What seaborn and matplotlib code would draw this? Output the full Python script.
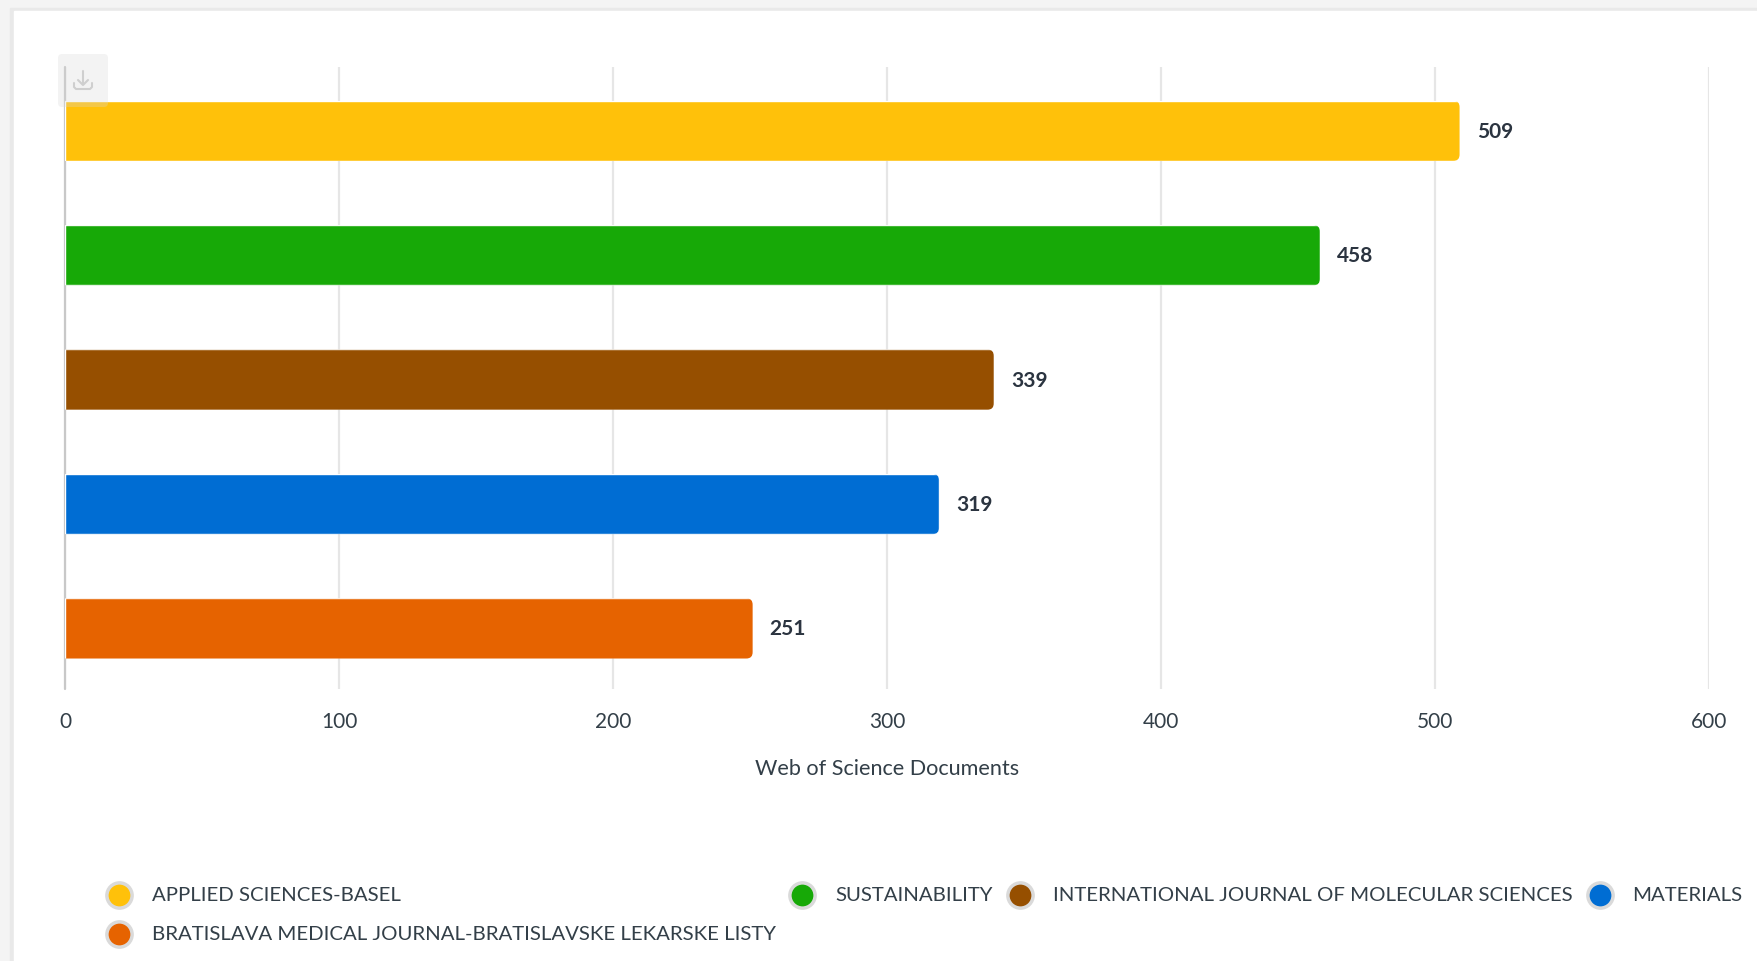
import matplotlib
matplotlib.use("Agg")
import matplotlib.pyplot as plt
from matplotlib.patches import FancyBboxPatch, Rectangle
import pandas as pd
import seaborn as sns

revistas = ["APPLIED SCIENCES-BASEL", "SUSTAINABILITY",
            "INTERNATIONAL JOURNAL OF MOLECULAR SCIENCES", "MATERIALS",
            "BRATISLAVA MEDICAL JOURNAL-BRATISLAVSKE LEKARSKE LISTY"]
documentos = [509, 458, 339, 319, 251]
colores = ["#FFC10A", "#17A907", "#964F00", "#006DD3", "#E66300"]
ticks = [0, 100, 200, 300, 400, 500, 600]

W, H = 1757, 962

sns.set_style("white")
plt.rcParams["font.family"] = ["Lato", "DejaVu Sans"]

df = pd.DataFrame({"revista": revistas, "documentos": documentos})

fig = plt.figure(figsize=(W / 100, H / 100), dpi=100)

# fondo de la pagina y tarjeta
fondo = fig.add_axes([0, 0, 1, 1], zorder=0)
fondo.set_xlim(0, W)
fondo.set_ylim(H, 0)
fondo.axis("off")
fondo.add_patch(Rectangle((0, 0), W, H, color="#F4F4F4"))
fondo.add_patch(Rectangle((10, 9), W, H, color="#E9E9E9"))
fondo.add_patch(Rectangle((14, 12), W, H, color="white"))

ax = fig.add_axes([65 / W, 1 - 690 / H, (1709 - 65) / W, (690 - 68) / H], zorder=1)
ax.patch.set_alpha(0)
sns.barplot(data=df, y="revista", x="documentos", hue="revista", palette=colores,
            width=0.485, dodge=False, legend=False, ax=ax, saturation=1, zorder=3)
ax.set_xlim(0, 600)
ax.set_ylim(4.487, -0.513)
ax.set_xticks(ticks)
ax.set_yticks([])
ax.set_ylabel("")
ax.set_xlabel("Web of Science Documents", fontsize=15.6, color="#333F48", labelpad=19)
ax.tick_params(axis="x", length=0, labelsize=15, labelcolor="#333F48", pad=16)
ax.xaxis.grid(True, color="#E6E6E6", linewidth=1.6)
ax.set_axisbelow(True)
for lado in ax.spines:
    ax.spines[lado].set_visible(False)
ax.axvline(0, color="#C8C8C8", linewidth=1.6, zorder=2, clip_on=False)

# esquinas redondeadas y valores
for barra, valor in zip(ax.patches, documentos):
    y0 = barra.get_y()
    alto = barra.get_height()
    r = 2.4
    asp = 0.0225
    forma = FancyBboxPatch((-20, y0 + r * asp), valor + 20 - r, alto - 2 * r * asp,
                           boxstyle="round,pad=%f,rounding_size=%f" % (r, r),
                           mutation_aspect=asp, transform=ax.transData)
    barra.set_clip_path(forma)
    ax.annotate(str(valor), xy=(valor, y0 + alto / 2), xytext=(17, 0),
                textcoords="offset pixels", va="center", ha="left",
                fontsize=15, fontweight="bold", color="#2B3440")

# capa de encima: boton de descarga y leyenda
capa = fig.add_axes([0, 0, 1, 1], zorder=2)
capa.set_xlim(0, W)
capa.set_ylim(H, 0)
capa.axis("off")
capa.add_patch(FancyBboxPatch((60, 57), 46, 49, boxstyle="round,pad=2,rounding_size=4",
                              facecolor="#D8D8D8", alpha=0.3, edgecolor="none"))
capa.plot([83, 83], [72, 85], color="#CFCFCF", lw=1.5)
capa.plot([78, 83, 88], [81, 86, 81], color="#CFCFCF", lw=1.5)
capa.plot([74, 74, 76, 90, 92, 92], [84, 88, 90, 90, 88, 84], color="#CFCFCF", lw=1.5)

ley_x = [119, 802, 1020, 1600, 119]
ley_y = [896, 896, 896, 896, 935]
txt_x = [152, 835, 1053, 1632, 152]
for i in range(5):
    capa.scatter(ley_x[i], ley_y[i], s=330, color=colores[i], edgecolor="#DADADA", linewidth=2.5)
    capa.text(txt_x[i], ley_y[i], revistas[i], fontsize=14.7, color="#333F48", va="center", ha="left")

fig.savefig("out.png", dpi=100)
